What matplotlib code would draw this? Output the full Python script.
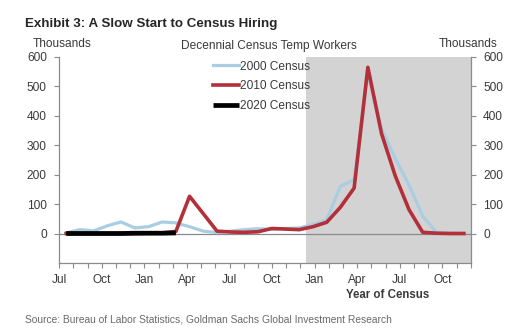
import matplotlib
matplotlib.use("Agg")
import matplotlib.pyplot as plt
import numpy as np

# Months shown: Jul two years before the census through Dec of the census year
tick_labels = ["Jul", "Oct", "Jan", "Apr", "Jul", "Oct", "Jan", "Apr", "Jul", "Oct"]
n_months = 30

# Census temporary workers, thousands (monthly, starting in July)
census_2000 = [3, 14, 10, 27, 40, 20, 24, 40, 37, 24, 9, 4, 9, 14, 17, 15, 18, 20,
               31, 48, 161, 183, 545, 355, 255, 165, 60, 5, 2, 1]
census_2010 = [1, 1, 1, 1, 1, 1, 2, 3, 8, 127, 68, 9, 6, 5, 7, 18, 16, 14,
               24, 39, 90, 155, 564, 339, 196, 82, 5, 2, 1, 1]
census_2020 = [1, 1, 1, 1, 1, 2, 2, 2, 3]

# Census year itself (Jan..Dec) is shaded
census_year_start = 18

plt.rcParams["font.family"] = ["Liberation Sans", "DejaVu Sans"]

W, H = 517, 333
fig = plt.figure(figsize=(W / 100, H / 100), dpi=100)
fig.patch.set_facecolor("white")

left, right, bottom, top = 59.3, 470.7, 263.3, 56.7
ax = fig.add_axes([left / W, 1 - bottom / H, (right - left) / W, (bottom - top) / H])
ax_data = ax.twiny()

# data layer underneath, tick/spine layer on top
ax_data.set_zorder(ax.get_zorder() - 1)
ax.patch.set_visible(False)

axis_grey = "#8a8a8a"
text_col = "#3a3a3a"

ax.set_ylim(-100, 600)
ax.set_xlim(0, n_months - 1)
ax_data.set_xlim(-0.5, n_months - 0.5)

# shading for the census year
ax_data.axvspan(census_year_start - 0.5, n_months - 0.5, color="#d3d3d3", lw=0, zorder=0)
ax_data.axhline(0, color=axis_grey, lw=0.9, zorder=1)

x2000 = np.arange(len(census_2000))
x2010 = np.arange(len(census_2010))
x2020 = np.arange(len(census_2020))
ax_data.plot(x2000, census_2000, color="#a9cde2", lw=2.3, label="2000 Census", zorder=2,
             solid_joinstyle="round")
ax_data.plot(x2010, census_2010, color="#b3303a", lw=2.6, label="2010 Census", zorder=3,
             solid_joinstyle="round")
ax_data.plot(x2020, census_2020, color="#000000", lw=3.4, label="2020 Census", zorder=4,
             solid_capstyle="butt")

ax_data.tick_params(top=False, labeltop=False)
for s in ax_data.spines.values():
    s.set_visible(False)

# spines
for side in ("left", "right", "bottom"):
    ax.spines[side].set_color(axis_grey)
    ax.spines[side].set_linewidth(0.9)
ax.spines["top"].set_visible(False)

# x ticks: every month, labels every quarter
month_ticks = np.arange(n_months)
labels = [""] * n_months
for k, lab in enumerate(tick_labels):
    labels[3 * k] = lab
ax.set_xticks(month_ticks)
ax.set_xticklabels(labels)
ax.tick_params(axis="x", length=3.5, width=0.8, color=axis_grey, pad=4.5,
               labelsize=8.6, labelcolor=text_col)

# y ticks on both sides
yt = np.arange(0, 601, 100)
ax.set_yticks(yt)
ax.tick_params(axis="y", left=True, right=True, labelleft=True, labelright=True,
               length=3.5, width=0.8, color=axis_grey, pad=5.5,
               labelsize=8.6, labelcolor=text_col)

# legend
leg = ax_data.legend(loc="upper left", bbox_to_anchor=(213 / W, 1 - 60.5 / H),
                     bbox_transform=fig.transFigure, frameon=False, fontsize=8.6,
                     handlelength=2.2, handletextpad=0.05, labelspacing=0.65,
                     borderaxespad=0, borderpad=0)
for t in leg.get_texts():
    t.set_color(text_col)

# texts
fig.text(25 / W, 1 - 26.7 / H, "Exhibit 3: A Slow Start to Census Hiring",
         fontsize=9.6, fontweight="bold", color="#262626",
         ha="left", va="baseline")
fig.text(33 / W, 1 - 46.7 / H, "Thousands", fontsize=8.6, color=text_col,
         ha="left", va="baseline")
fig.text(497 / W, 1 - 46.7 / H, "Thousands", fontsize=8.6, color=text_col,
         ha="right", va="baseline")
fig.text(268.7 / W, 1 - 49.5 / H, "Decennial Census Temp Workers", fontsize=8.6,
         color=text_col, ha="center", va="baseline")
fig.text(388 / W, 1 - 298 / H, "Year of Census", fontsize=8.3, fontweight="bold",
         color=text_col, ha="center", va="baseline")
fig.text(25 / W, 1 - 322 / H,
         "Source: Bureau of Labor Statistics, Goldman Sachs Global Investment Research",
         fontsize=7.4, color="#6a6a6a", ha="left", va="baseline")

fig.savefig("out.png", dpi=100)
